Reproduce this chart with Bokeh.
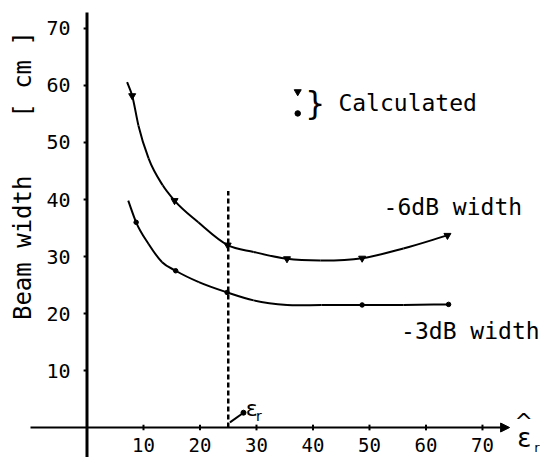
import math
from bokeh.plotting import figure
from bokeh.models import Arrow, NormalHead
from bokeh.core.properties import value
from bokeh.embed import file_html
from bokeh.resources import INLINE

# ---- data ----
# traced curve of the -6dB beam width
curve6_eps = [7.1, 8.0, 9.1, 10.9, 13.4, 15.5, 19.7, 24.9, 29.5, 35.4, 41.3, 48.7, 56.0, 63.8]
curve6_width = [60.6, 58.2, 53.0, 47.2, 42.5, 39.8, 36.0, 32.0, 30.8, 29.6, 29.3, 29.7, 31.4, 33.7]
# calculated points of the -6dB beam width
calc6_eps = [8.0, 15.5, 24.9, 35.4, 48.7, 63.8]
calc6_width = [58.2, 39.8, 32.0, 29.6, 29.7, 33.7]
# traced curve of the -3dB beam width
curve3_eps = [7.3, 8.7, 10.9, 13.3, 15.7, 19.8, 24.8, 29.5, 35.4, 41.5, 48.7, 56.0, 64.0]
curve3_width = [39.8, 36.0, 32.2, 29.0, 27.5, 25.5, 23.7, 22.3, 21.5, 21.5, 21.5, 21.5, 21.6]
# calculated points of the -3dB beam width
calc3_eps = [8.7, 15.7, 24.8, 48.7, 64.0]
calc3_width = [36.0, 27.5, 23.7, 21.5, 21.6]

x_ticks = [10, 20, 30, 40, 50, 60, 70]
x_tick_labels = ["10", "20", "30", "40", "50", "60", "70"]
y_ticks = [10, 20, 30, 40, 50, 60, 70]
y_tick_labels = ["10", "20", "30", "40", "50", "60", "70"]
eps_r_value = 25.0
eps_r_line_top = 41.5

FONT = value("DejaVu Sans Mono")
SANS = value("DejaVu Sans")

p = figure(width=540, height=457, output_backend="svg", toolbar_location=None,
           x_range=(-15.31, 80.27), y_range=(-5.26, 74.91),
           x_axis_type=None, y_axis_type=None, min_border=0)
p.outline_line_color = None
p.grid.visible = False
p.background_fill_color = "white"


def hermite_bezier(xs, ys):
    """Smooth cubic through the traced points (non-uniform three-point slopes)."""
    n = len(xs)
    h = [xs[i + 1] - xs[i] for i in range(n - 1)]
    d = [(ys[i + 1] - ys[i]) / h[i] for i in range(n - 1)]
    m = [d[0]]
    for i in range(1, n - 1):
        m.append((h[i - 1] * d[i] + h[i] * d[i - 1]) / (h[i - 1] + h[i]))
    m.append(d[-1])
    out = dict(x0=[], y0=[], x1=[], y1=[], cx0=[], cy0=[], cx1=[], cy1=[])
    for i in range(n - 1):
        out["x0"].append(xs[i]); out["y0"].append(ys[i])
        out["x1"].append(xs[i + 1]); out["y1"].append(ys[i + 1])
        out["cx0"].append(xs[i] + h[i] / 3.0)
        out["cy0"].append(ys[i] + m[i] * h[i] / 3.0)
        out["cx1"].append(xs[i + 1] - h[i] / 3.0)
        out["cy1"].append(ys[i + 1] - m[i + 1] * h[i] / 3.0)
    return out


# axes
p.line([0, 0], [-5.3, 72.8], line_color="black", line_width=3)
p.add_layout(Arrow(end=NormalHead(size=9, fill_color="black", line_color="black"),
                   x_start=-10, y_start=0, x_end=74.8, y_end=0,
                   line_color="black", line_width=2))
p.segment(x0=x_ticks, y0=[-0.5] * len(x_ticks), x1=x_ticks, y1=[0.5] * len(x_ticks),
          line_color="black", line_width=2)
p.segment(x0=[-0.6] * len(y_ticks), y0=y_ticks, x1=[0] * len(y_ticks), y1=y_ticks,
          line_color="black", line_width=2)

p.text(x=x_ticks, y=[-3.1] * len(x_ticks), text=x_tick_labels, text_font=FONT,
       text_font_size="19px", text_align="center", text_baseline="middle", text_color="black")
p.text(x=[-2.9] * len(y_ticks), y=y_ticks, text=y_tick_labels, text_font=FONT,
       text_font_size="20px", text_align="right", text_baseline="middle", text_color="black")

# y label
p.text(x=[-11.4], y=[44.2], text=["Beam width\u00a0\u00a0\u00a0\u00a0[ cm ]"], angle=math.pi / 2,
       text_font=FONT, text_font_size="24px", text_align="center",
       text_baseline="middle", text_color="black")

# curves and calculated points
p.bezier(line_color="black", line_width=2, **hermite_bezier(curve6_eps, curve6_width))
p.bezier(line_color="black", line_width=2, **hermite_bezier(curve3_eps, curve3_width))
p.scatter(calc6_eps, calc6_width, marker="inverted_triangle", size=7, color="black")
p.scatter(calc3_eps, calc3_width, marker="circle", size=4.5, color="black")

# dashed eps_r line with its label
p.line([eps_r_value, eps_r_value], [0, eps_r_line_top], line_color="black",
       line_width=2.5, line_dash="5 3")
p.segment(x0=[eps_r_value + 0.3], y0=[0.9], x1=[eps_r_value + 2.7], y1=[2.6],
          line_color="black", line_width=2)
p.scatter([eps_r_value + 2.7], [2.6], size=5, color="black")
p.text(x=[eps_r_value + 3.1], y=[3.3], text=["ε"], text_font=SANS,
       text_font_size="22px", text_align="left", text_baseline="middle", text_color="black")
p.text(x=[eps_r_value + 4.9], y=[2.0], text=["r"], text_font=SANS,
       text_font_size="14px", text_align="left", text_baseline="middle", text_color="black")

# x label: epsilon hat, subscript r
p.text(x=[77.4], y=[-1.8], text=["ε"], text_font=SANS,
       text_font_size="26px", text_align="center", text_baseline="middle", text_color="black")
p.text(x=[77.3], y=[1.0], text=["^"], text_font=SANS,
       text_font_size="22px", text_align="center", text_baseline="middle", text_color="black")
p.text(x=[80.1], y=[-3.5], text=["r"], text_font=SANS,
       text_font_size="13px", text_align="right", text_baseline="middle", text_color="black")

# legend
p.scatter([37.3], [58.9], marker="inverted_triangle", size=7, color="black")
p.scatter([37.3], [55.1], marker="circle", size=5.5, color="black")
p.text(x=[38.6], y=[56.9], text=["}"], text_font=SANS,
       text_font_size="32px", text_align="left", text_baseline="middle", text_color="black")
p.text(x=[44.5], y=[56.9], text=["Calculated"], text_font=FONT,
       text_font_size="23px", text_align="left", text_baseline="middle", text_color="black")

# series labels
p.text(x=[52.5], y=[38.6], text=["-6dB width"], text_font=FONT,
       text_font_size="23px", text_align="left", text_baseline="middle", text_color="black")
p.text(x=[55.6], y=[17.0], text=["-3dB width"], text_font=FONT,
       text_font_size="23px", text_align="left", text_baseline="middle", text_color="black")

open("out.html", "w").write(file_html(p, INLINE))
